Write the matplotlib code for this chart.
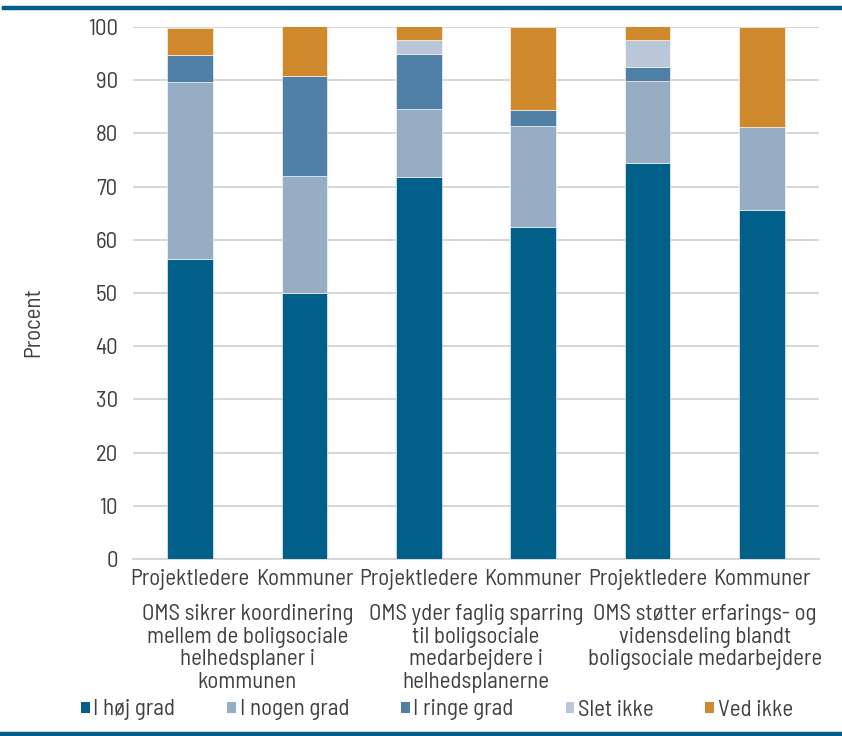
import matplotlib
matplotlib.use("Agg")
import matplotlib.pyplot as plt
from matplotlib.patches import Patch
from matplotlib.lines import Line2D
import numpy as np

# Stacked answers (percent) per respondent group
groups = ["Projektledere", "Kommuner", "Projektledere", "Kommuner", "Projektledere", "Kommuner"]
statements = [
    "OMS sikrer koordinering\nmellem de boligsociale\nhelhedsplaner i\nkommunen",
    "OMS yder faglig sparring\ntil boligsociale\nmedarbejdere i\nhelhedsplanerne",
    "OMS støtter erfarings- og\nvidensdeling blandt\nboligsociale medarbejdere",
]
series_names = ["I høj grad", "I nogen grad", "I ringe grad", "Slet ikke", "Ved ikke"]
hoej = [56.4, 50.0, 71.8, 62.5, 74.4, 65.6]
nogen = [33.3, 21.9, 12.8, 18.8, 15.4, 15.6]
ringe = [5.1, 18.8, 10.3, 3.1, 2.6, 0.0]
slet = [0.0, 0.0, 2.6, 0.0, 5.1, 0.0]
ved = [5.1, 9.4, 2.6, 15.6, 2.6, 18.8]
yticks = [0, 10, 20, 30, 40, 50, 60, 70, 80, 90, 100]

colors = ["#00608a", "#97adc4", "#4f7fa4", "#bac7d8", "#cf882b"]
text_col = "#404040"
fs = 16.5

plt.rcParams["font.family"] = ["Barlow Semi Condensed", "DejaVu Sans"]
plt.rcParams["font.weight"] = "normal"
plt.rcParams["text.color"] = text_col

fig = plt.figure(figsize=(8.42, 7.36), dpi=100)
ax = fig.add_axes([133 / 842, 1 - 559 / 736, 686 / 842, 532 / 736])

x = np.arange(len(groups))
bottom = np.zeros(len(groups))
for vals, col, name in zip([hoej, nogen, ringe, slet, ved], colors, series_names):
    ax.bar(x, vals, width=0.40, bottom=bottom, color=col, label=name,
           edgecolor="#ffffff", linewidth=0.4, zorder=3)
    bottom += np.array(vals)

ax.set_xlim(-0.5, len(groups) - 0.5)
ax.set_ylim(0, 100)
ax.set_yticks(yticks)
ax.set_yticklabels([str(t) for t in yticks], fontsize=fs, color=text_col)
ax.set_xticks(x)
ax.set_xticklabels(groups, fontsize=fs, color=text_col)
ax.tick_params(axis="y", length=0, pad=11)
ax.tick_params(axis="x", length=0, pad=7.5)
ax.grid(axis="y", color="#d4d4d4", linewidth=1.3, zorder=0)
for side in ["top", "right", "left"]:
    ax.spines[side].set_visible(False)
ax.spines["bottom"].set_color("#d4d4d4")
ax.spines["bottom"].set_linewidth(1.3)

ax.set_ylabel("Procent", fontsize=fs, color=text_col)
ax.yaxis.set_label_coords(-0.13, 0.445)

# Statement labels under each pair of bars
trans = matplotlib.transforms.blended_transform_factory(ax.transData, ax.transAxes)
for i, s in enumerate(statements):
    ax.text(2 * i + 0.5, -0.085, s, transform=trans, ha="center", va="top",
            fontsize=fs, color=text_col, linespacing=1.1)

handles = [Patch(facecolor=c, edgecolor="none") for c in colors]
fig.legend(handles, series_names, loc="center", bbox_to_anchor=(437 / 842, 1 - 710 / 736),
           ncol=5, frameon=False, fontsize=fs, handlelength=0.38, handleheight=0.38,
           handletextpad=0.15, columnspacing=2.27)

# Blue rules at top and bottom
fig.add_artist(Line2D([4 / 842, 1], [1 - 8 / 736] * 2, color="#005e88", linewidth=3.2))
fig.add_artist(Line2D([0, 1], [1 - 734 / 736] * 2, color="#005e88", linewidth=3.2))

fig.savefig("out.png", dpi=100)
